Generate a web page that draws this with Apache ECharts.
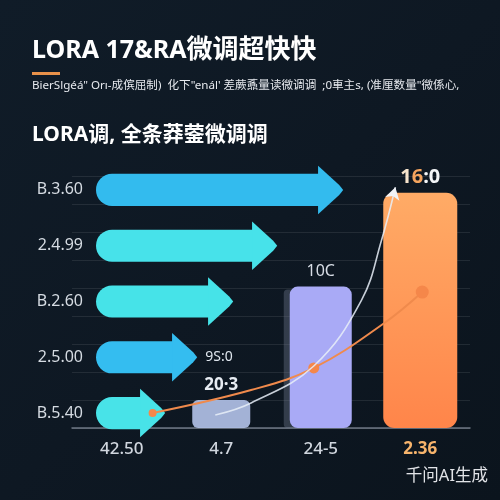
<!DOCTYPE html>
<html><head><meta charset="utf-8">
<script src="https://cdn.jsdelivr.net/npm/echarts@6/dist/echarts.min.js"></script>
<style>html,body{margin:0;padding:0;background:#0e1822}#c{width:500px;height:500px}</style>
</head><body><div id="c"></div>
<script>
// ---- data ----
const arrowCategories = ['B.3.60', '2.4.99', 'B.2.60', '2.5.00', 'B.5.40'];
const arrowValues = [61.8, 45.3, 34.3, 25.3, 17.3];
const arrowLabels = ['', '', '', '9S:0', ''];
const barCategories = ['42.50', '4.7', '24-5', '2.36'];
const barValues = [null, 20, 101, 168];
const barLabels = ['', '20·3', '10C', '16:0'];
const whiteCurve = [[0.94, 9.3], [1.30, 17.9], [1.93, 44.3], [2.41, 91.4], [2.61, 134], [2.75, 172]];
const orangeCurve = [[0.31, 10.7], [1.30, 27.1], [1.93, 42.9], [2.64, 75], [3.02, 97.1]];

// ---- styles ----
const FONT = "'Noto Sans', 'Noto Sans CJK SC', sans-serif";
const arrowColors = ['#33bbee', '#47e2ea', '#46e3e8', '#34bdf0', '#48e3e8'];
const barColors = [null, 'rgba(176,192,230,0.92)', '#a9aaf6',
  new echarts.graphic.LinearGradient(0, 0, 0, 1, [{offset: 0, color: '#ffab66'}, {offset: 1, color: '#ff854a'}])];
const barWidths = [0, 58, 62, 74];
const barRadius = [0, 6, 8, 11];

const chart = echarts.init(document.getElementById('c'));

function renderArrow(params, api) {
  const cat = api.value(0), val = api.value(1);
  const start = api.coord([0, cat]);
  const end = api.coord([val, cat]);
  const band = api.size([0, 1])[1];
  const h = band * 0.575, H = band * 0.87, headLen = band * 0.45;
  const cy = start[1], x0 = start[0], tip = end[0], hs = tip - headLen;
  const color = arrowColors[params.dataIndex];
  const children = [
    {type: 'rect', shape: {x: x0, y: cy - h / 2, width: hs - x0 + 1, height: h, r: [h / 2, 0, 0, h / 2]}, style: {fill: color}},
    {type: 'polygon', shape: {points: [[hs, cy - H / 2], [tip - 4, cy - 5], [tip, cy], [tip - 4, cy + 5], [hs, cy + H / 2]]}, style: {fill: color}}
  ];
  const lab = arrowLabels[params.dataIndex];
  if (lab) children.push({type: 'text', style: {x: tip + 8, y: cy, text: lab, fill: '#dfe6ee', font: '14px ' + FONT, verticalAlign: 'middle'}});
  return {type: 'group', children};
}

function renderBar(params, api) {
  const i = api.value(0), v = api.value(1);
  if (v == null || isNaN(v)) return;
  const top = api.coord([i, v]);
  const base = api.coord([i, 0]);
  const w = barWidths[i], r = barRadius[i];
  const children = [];
  if (i === 2) {
    children.push({type: 'rect', shape: {x: top[0] - w / 2 - 6, y: top[1] + 3, width: 10, height: base[1] - top[1] - 3, r: [4, 0, 0, 4]}, style: {fill: 'rgba(110,120,140,0.4)'}});
  }
  children.push({type: 'rect', shape: {x: top[0] - w / 2, y: top[1], width: w, height: base[1] - top[1], r: r}, style: {fill: barColors[i]}});
  const lab = barLabels[i];
  if (i === 3) {
    children.push({type: 'text', style: {x: top[0], y: top[1] - 16, text: '{a|1}{b|6}{c|:0}', align: 'center', verticalAlign: 'middle',
      rich: {a: {fill: '#f7e4cc', font: 'bold 20px ' + FONT}, b: {fill: '#f5a45e', font: 'bold 20px ' + FONT}, c: {fill: '#f4f6f8', font: 'bold 20px ' + FONT}}}});
  } else if (lab) {
    children.push({type: 'text', style: {x: top[0], y: top[1] - 15, text: lab, align: 'center', verticalAlign: 'middle',
      fill: i === 1 ? '#e8edf3' : '#d8dde6', font: (i === 1 ? 'bold 17px ' : '16px ') + FONT}});
  }
  return {type: 'group', children};
}

const option = {
  backgroundColor: new echarts.graphic.LinearGradient(0, 0, 1, 1, [{offset: 0, color: '#101c28'}, {offset: 0.5, color: '#0e1823'}, {offset: 1, color: '#0b141d'}]),
  animation: false,
  textStyle: {fontFamily: FONT},
  grid: [
    {left: 96, right: 4, top: 162, bottom: 59},
    {left: 72, right: 30, top: 176, bottom: 72}
  ],
  xAxis: [
    {gridIndex: 0, type: 'value', min: 0, max: 100, show: false},
    {gridIndex: 1, type: 'category',
      data: barCategories.map((c, i) => i === 3 ? {value: c, textStyle: {color: '#f7b46c', fontWeight: 'bold'}} : c),
      axisLine: {lineStyle: {color: 'rgba(185,195,212,0.55)', width: 1.5}}, axisTick: {show: false},
      axisLabel: {fontSize: 17, color: '#d0d6de', margin: 13, fontWeight: 500, fontFamily: FONT}},
    {gridIndex: 1, type: 'value', min: -0.5, max: 3.5, show: false}
  ],
  yAxis: [
    {gridIndex: 0, type: 'category', data: arrowCategories, inverse: true,
      axisLine: {show: false}, axisTick: {show: false},
      axisLabel: {fontSize: 16, color: '#d5dbe2', margin: 13, fontFamily: FONT}},
    {gridIndex: 1, type: 'value', min: 0, max: 180, interval: 20,
      axisLabel: {show: false}, axisLine: {show: false}, axisTick: {show: false},
      splitLine: {lineStyle: {color: 'rgba(255,255,255,0.09)'}}}
  ],
  graphic: [
    {type: 'text', left: 32, top: 38, style: {text: '{a|LORA 17&RA}{b|微调超快快}',
      rich: {a: {fill: '#ffffff', font: 'bold 25px ' + FONT}, b: {fill: '#ffffff', font: 'bold 26px ' + FONT}}}},
    {type: 'rect', left: 32, top: 72, shape: {width: 28, height: 3}, style: {fill: '#e8914a'}},
    {type: 'text', left: 32, top: 80, style: {text: 'BierSlgéá" Orı-成傧屈制)  化下"enál\' 差蕨鼒量读微调调  ;0車主s, (准厘数量"微係心,', fill: '#e6e9ee', font: '11.6px ' + FONT}},
    {type: 'text', left: 32, top: 125, style: {text: 'LORA调, 全条莽蓥微调调', fill: '#ffffff', font: 'bold 21px ' + FONT}},
    {type: 'text', right: 12, top: 468, style: {text: '千问AI生成', fill: '#e2e4e8', font: '16.5px ' + FONT}}
  ],
  series: [
    {type: 'custom', xAxisIndex: 0, yAxisIndex: 0, renderItem: renderArrow,
      encode: {x: 1, y: 0}, data: arrowValues.map((v, i) => [i, v]), z: 5},
    {type: 'custom', xAxisIndex: 1, yAxisIndex: 1, renderItem: renderBar,
      encode: {x: 0, y: 1}, data: barValues.map((v, i) => [i, v == null ? NaN : v]), z: 3},
    {type: 'line', xAxisIndex: 2, yAxisIndex: 1, smooth: 0.4, z: 6,
      lineStyle: {color: '#f08a4c', width: 2},
      itemStyle: {color: '#f5874a'},
      data: orangeCurve.map((p, i) => ({value: p, symbol: (i % 2 === 0) ? 'circle' : 'none', symbolSize: i === 0 ? 8 : (i === 2 ? 11 : 13)}))},
    {type: 'line', xAxisIndex: 2, yAxisIndex: 1, smooth: 0.4, z: 7,
      lineStyle: {color: 'rgba(232,238,248,0.85)', width: 1.6},
      itemStyle: {color: '#f1f3f7'},
      data: whiteCurve.map((p, i) => (i === whiteCurve.length - 1)
        ? {value: p, symbol: 'arrow', symbolSize: [11, 12], symbolRotate: -15}
        : {value: p, symbol: 'none'})}
  ]
};
chart.setOption(option);
</script></body></html>
